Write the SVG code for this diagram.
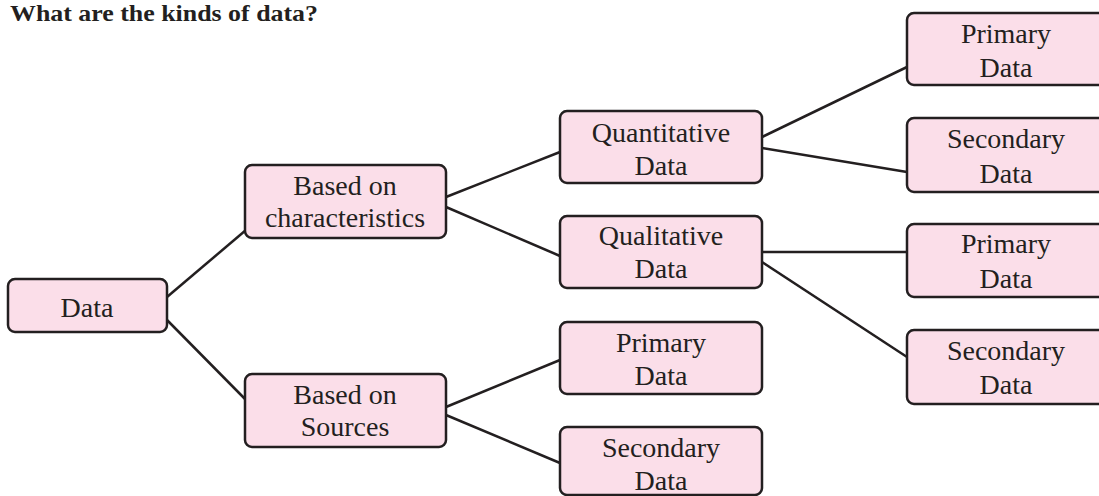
<svg xmlns="http://www.w3.org/2000/svg" width="1099" height="496" viewBox="0 0 1099 496">
<style>
.box{fill:#FBDEE9;stroke:#231F20;stroke-width:2.5}
.t{font-family:"Liberation Serif","Times New Roman",serif;font-size:28px;fill:#231F20;text-anchor:middle}
.title{font-family:"Liberation Serif","Times New Roman",serif;font-size:24px;font-weight:bold;fill:#231F20}
.c line{stroke:#231F20;stroke-width:2.5}
</style>
<rect width="1099" height="496" fill="#ffffff"/>
<text class="title" x="10" y="21" textLength="308" lengthAdjust="spacingAndGlyphs">What are the kinds of data?</text>
<g class="c" id="connectors">
<line x1="167" y1="297" x2="246" y2="230"/>
<line x1="167" y1="320" x2="246" y2="400"/>
<line x1="446" y1="197" x2="560" y2="152"/>
<line x1="446" y1="207" x2="560" y2="256"/>
<line x1="446" y1="407" x2="560" y2="360"/>
<line x1="446" y1="415" x2="560" y2="463"/>
<line x1="762" y1="137" x2="907" y2="67"/>
<line x1="762" y1="148" x2="907" y2="172"/>
<line x1="762" y1="252" x2="907" y2="252"/>
<line x1="762" y1="262" x2="907" y2="357"/>
</g>
<g id="data"><rect class="box" x="8" y="279" width="159" height="53" rx="7"/><text class="t" x="87" y="317">Data</text></g>
<g id="characteristics"><rect class="box" x="245" y="165" width="201" height="73" rx="7"/><text class="t" x="345" y="195">Based on</text><text class="t" x="345" y="227">characteristics</text></g>
<g id="sources"><rect class="box" x="245" y="374" width="201" height="73" rx="7"/><text class="t" x="345" y="404">Based on</text><text class="t" x="345" y="436">Sources</text></g>
<g id="quantitative"><rect class="box" x="560" y="111" width="202" height="72" rx="7"/><text class="t" x="661" y="142">Quantitative</text><text class="t" x="661" y="175">Data</text></g>
<g id="qualitative"><rect class="box" x="560" y="216" width="202" height="72" rx="7"/><text class="t" x="661" y="245">Qualitative</text><text class="t" x="661" y="278">Data</text></g>
<g id="src-primary"><rect class="box" x="560" y="322" width="202" height="72" rx="7"/><text class="t" x="661" y="352">Primary</text><text class="t" x="661" y="385">Data</text></g>
<g id="src-secondary"><rect class="box" x="560" y="427" width="202" height="68" rx="7"/><text class="t" x="661" y="457">Secondary</text><text class="t" x="661" y="490">Data</text></g>
<g id="quant-primary"><rect class="box" x="907" y="13" width="200" height="72" rx="7"/><text class="t" x="1006" y="43">Primary</text><text class="t" x="1006" y="77">Data</text></g>
<g id="quant-secondary"><rect class="box" x="907" y="118" width="200" height="74" rx="7"/><text class="t" x="1006" y="148">Secondary</text><text class="t" x="1006" y="183">Data</text></g>
<g id="qual-primary"><rect class="box" x="907" y="224" width="200" height="73" rx="7"/><text class="t" x="1006" y="253">Primary</text><text class="t" x="1006" y="288">Data</text></g>
<g id="qual-secondary"><rect class="box" x="907" y="330" width="200" height="74" rx="7"/><text class="t" x="1006" y="360">Secondary</text><text class="t" x="1006" y="394">Data</text></g>
</svg>
